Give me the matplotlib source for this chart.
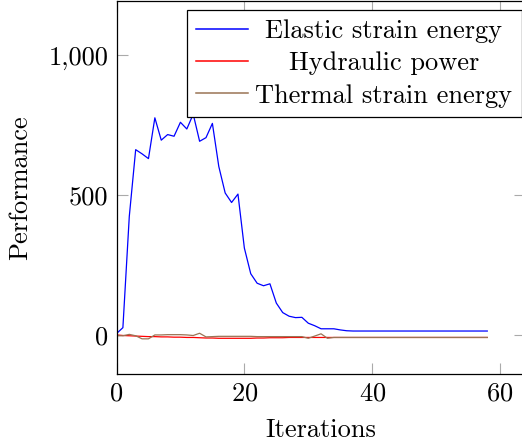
import numpy as np
import matplotlib
matplotlib.use("Agg")
import matplotlib.pyplot as plt
from matplotlib.ticker import FuncFormatter, MultipleLocator

plt.rcParams['font.family'] = 'cmr10'
plt.rcParams['axes.formatter.use_mathtext'] = True
plt.rcParams['font.size'] = 19

iterations = np.arange(59)

elastic = [5, 26, 424, 663, 648, 631, 777, 697, 717, 711,
           761, 737, 790, 693, 706, 757, 603, 508, 474, 504,
           311, 219, 185, 176, 183, 114, 80, 67, 62, 63,
           42, 33, 22, 22, 22, 18, 15] + [14] * 22
hydraulic = [0, -2, -3, -4, -5, -6, -6, -7, -7, -8,
             -8, -9, -9, -10, -11, -11, -12, -12, -12, -12,
             -12, -12, -11, -11, -10, -10, -10, -9, -9, -9] + [-9] * 29
thermal = [-3, -3, 2, -3, -14, -14, 0, 0, 1, 1,
           1, 0, -2, 6, -7, -6, -5, -5, -5, -5,
           -5, -5, -6, -6, -6, -6, -6, -6, -6, -6,
           -12, -4, 4, -12] + [-9] * 25

labels = ['Elastic strain energy', 'Hydraulic power', 'Thermal strain energy']
colors = ['#0000ff', '#ff0000', '#9a7455']

fig = plt.figure(figsize=(5.22, 4.41), dpi=100)
ax = fig.add_axes([116.5 / 522, 67.5 / 441, 408.5 / 522, 372.5 / 441])

for series, lab, c in zip([elastic, hydraulic, thermal], labels, colors):
    ax.plot(iterations, series, color=c, lw=0.9, label=lab)

ax.set_xlim(0, 63.9)
ax.set_ylim(-138, 1195)
ax.xaxis.set_major_locator(MultipleLocator(20))
ax.yaxis.set_major_locator(MultipleLocator(500))
ax.yaxis.set_major_formatter(FuncFormatter(lambda v, p: f'{v:,.0f}'))

ax.tick_params(direction='in', length=8, width=0.8, color='#aaaaaa',
               top=True, right=True, pad=6)
for s in ax.spines.values():
    s.set_linewidth(0.9)

ax.set_xlabel('Iterations', labelpad=9)
ax.set_ylabel('Performance')
ax.yaxis.set_label_coords(-0.207, 0.5)

leg = ax.legend(loc='upper right', bbox_to_anchor=(0.992, 0.975),
                borderaxespad=0, fancybox=False, framealpha=1,
                edgecolor='black', handlelength=1.95, handletextpad=0.3,
                labelspacing=0.32, borderpad=0.35)
leg.get_frame().set_linewidth(0.9)
for h in leg.get_lines():
    h.set_linewidth(1.1)

# pgfplots-style centred legend labels
fig.canvas.draw()
r = fig.canvas.get_renderer()
widths = [t.get_window_extent(r).width for t in leg.get_texts()]
for t, w in zip(leg.get_texts(), widths):
    t.set_x((max(widths) - w) / 2)

fig.savefig('out.png', dpi=100)
